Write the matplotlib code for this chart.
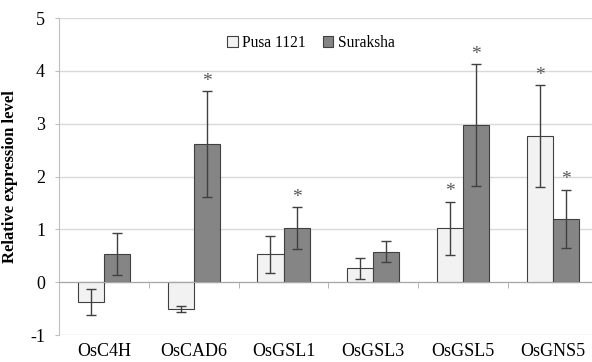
import numpy as np
import matplotlib
matplotlib.use("Agg")
import matplotlib.pyplot as plt
from matplotlib.patches import Patch

genes = ["OsC4H", "OsCAD6", "OsGSL1", "OsGSL3", "OsGSL5", "OsGNS5"]
pusa = [-0.37, -0.51, 0.53, 0.26, 1.02, 2.77]
pusa_err = [0.25, 0.05, 0.35, 0.20, 0.50, 0.96]
pusa_sig = [False, False, False, False, True, True]
suraksha = [0.53, 2.62, 1.02, 0.58, 2.97, 1.20]
suraksha_err = [0.40, 1.00, 0.40, 0.20, 1.15, 0.55]
suraksha_sig = [False, True, True, False, True, True]

plt.rcParams["font.family"] = ["Liberation Serif", "DejaVu Serif"]
plt.rcParams["axes.unicode_minus"] = False

fig = plt.figure(figsize=(5.92, 3.62), dpi=100)
ax = fig.add_axes([59 / 592, 27 / 362, 533 / 592, 317 / 362])

x = np.arange(len(genes))
w = 0.29
c_pusa = "#f2f2f2"
c_sur = "#858585"
edge = "#404040"
ekw = dict(ecolor="#404040", elinewidth=1, capsize=3.5, capthick=1)

ax.bar(x - w / 2, pusa, w, color=c_pusa, edgecolor=edge, linewidth=0.8,
       yerr=pusa_err, error_kw=ekw, zorder=3)
ax.bar(x + w / 2, suraksha, w, color=c_sur, edgecolor=edge, linewidth=0.8,
       yerr=suraksha_err, error_kw=ekw, zorder=3)

# asterisks above significant bars
for i in range(len(genes)):
    if pusa_sig[i]:
        ax.annotate("*", (x[i] - w / 2, pusa[i] + pusa_err[i]), xytext=(0, 1),
                    textcoords="offset points", ha="center", va="bottom",
                    fontsize=14, color="#555555")
    if suraksha_sig[i]:
        ax.annotate("*", (x[i] + w / 2, suraksha[i] + suraksha_err[i]), xytext=(0, 1),
                    textcoords="offset points", ha="center", va="bottom",
                    fontsize=14, color="#555555")

ax.set_ylim(-1, 5)
ax.set_xlim(-0.5, -0.5 + 533 / 89.8)
ax.set_yticks(range(-1, 6))
ax.yaxis.grid(True, color="#d9d9d9", linewidth=1)
ax.set_axisbelow(True)

for s in ["top", "right"]:
    ax.spines[s].set_visible(False)
ax.spines["left"].set_color("#bfbfbf")
ax.spines["bottom"].set_position(("data", 0))
ax.spines["bottom"].set_color("#a6a6a6")
ax.spines["bottom"].set_zorder(4)

ax.set_xticks(x)
ax.set_xticklabels(genes, fontsize=13)
ax.set_xticks(np.arange(0.5, len(genes) - 1, 1), minor=True)
ax.tick_params(axis="x", which="major", length=0, pad=44)
ax.tick_params(axis="x", which="minor", length=4, color="#a6a6a6", direction="out")
ax.tick_params(axis="y", length=3, color="#bfbfbf", labelsize=13, pad=7)

ax.set_ylabel("Relative expression level", fontsize=12, fontweight="bold", labelpad=9)

handles = [Patch(facecolor=c_pusa, edgecolor=edge, linewidth=0.8),
           Patch(facecolor=c_sur, edgecolor=edge, linewidth=0.8)]
ax.legend(handles, ["Pusa 1121", "Suraksha"], loc="center", bbox_to_anchor=(0.473, 0.921),
          ncol=2, frameon=False, fontsize=11.2, handlelength=0.65, handleheight=0.65,
          handletextpad=0.3, columnspacing=1.1)

fig.savefig("out.png", dpi=100)
